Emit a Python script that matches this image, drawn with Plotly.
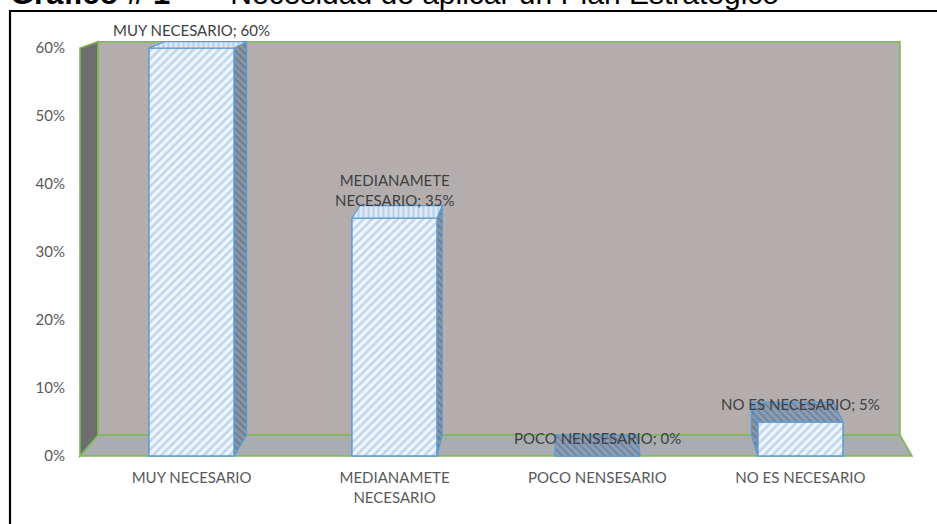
import plotly.graph_objects as go

# --- data -------------------------------------------------------------
categories = ["MUY NECESARIO", "MEDIANAMETE NECESARIO", "POCO NENSESARIO", "NO ES NECESARIO"]
tick_labels = ["MUY NECESARIO", "MEDIANAMETE<br>NECESARIO", "POCO NENSESARIO", "NO ES NECESARIO"]
values = [0.60, 0.35, 0.00, 0.05]
y_ticks = [0.0, 0.1, 0.2, 0.3, 0.4, 0.5, 0.6]

# --- 3D box geometry (in axis units) ----------------------------------
BAR_W = 0.42
X0, X1 = -0.55, 3.55          # front edges of the floor
Y_TOP = 0.6                   # top of the walls
VX, VY, S = 1.903, 0.859, 0.964   # vanishing point and depth scale


def back(x, y):
    """Project a front-plane point onto the back plane."""
    return VX + S * (x - VX), VY + S * (y - VY)


def path(points):
    return "M " + " L ".join(f"{x:.4f},{y:.4f}" for x, y in points) + " Z"


GREEN = "#7DB954"
BLUE_EDGE = "#5B9BD5"
LABEL_FONT = "Lato"

fig = go.Figure()

# front faces of the columns
fig.add_trace(go.Bar(
    x=list(range(len(categories))),
    y=values,
    width=BAR_W,
    marker=dict(
        color="#EEF5FC",
        pattern=dict(shape="/", fgcolor="#8DB6E0", bgcolor="#F0F6FC", size=6, solidity=0.45),
        line=dict(color=BLUE_EDGE, width=1.5),
    ),
    hoverinfo="skip",
    showlegend=False,
))

# top and side faces of the columns
top_tone = ["light", "light", "dark", "dark"]
tones = {
    "light": dict(shape="|", fgcolor="#8FB3DA", bgcolor="#DDE9F5"),
    "dark": dict(shape="\\", fgcolor="#4A6E9C", bgcolor="#8E9DB0"),
    "side": dict(shape="\\", fgcolor="#3F6696", bgcolor="#8C96A3"),
}


def face(points, tone):
    xs = [p[0] for p in points] + [points[0][0]]
    ys = [p[1] for p in points] + [points[0][1]]
    fig.add_trace(go.Scatter(
        x=xs, y=ys, mode="lines", fill="toself",
        fillcolor=tones[tone]["bgcolor"],
        fillpattern=dict(size=5, solidity=0.4, **tones[tone]),
        line=dict(color=BLUE_EDGE, width=1.2),
        hoverinfo="skip", showlegend=False,
    ))


for i, v in enumerate(values):
    xl, xr = i - BAR_W / 2, i + BAR_W / 2
    if v > 0:
        if xr < VX:
            face([(xr, 0), (xr, v), back(xr, v), back(xr, 0)], "side")
        elif xl > VX:
            face([(xl, 0), (xl, v), back(xl, v), back(xl, 0)], "side")
    face([(xl, v), (xr, v), back(xr, v), back(xl, v)], top_tone[i])

# walls and floor
shapes = [
    dict(type="path", layer="below", xref="x", yref="y",
         path=path([back(X0, 0), back(X1, 0), back(X1, Y_TOP), back(X0, Y_TOP)]),
         fillcolor="#B3AEAD", line=dict(color=GREEN, width=1.6)),
    dict(type="path", layer="below", xref="x", yref="y",
         path=path([(X0, 0), (X1, 0), back(X1, 0), back(X0, 0)]),
         fillcolor="#A9ADB2", line=dict(color=GREEN, width=1.6)),
    dict(type="path", layer="below", xref="x", yref="y",
         path=path([(X0, 0), (X0, Y_TOP), back(X0, Y_TOP), back(X0, 0)]),
         fillcolor="#6E6E6E", line=dict(color=GREEN, width=1.6)),
]

# pixel frame of the plot area
W, H = 937, 524
L, R, T, B = 76, 916, 40, 460
px_per_x = 203.0
px_per_y = 680.0
x_range = [X0 - (80 - L) / px_per_x, X1 + (R - 912) / px_per_x]
y_range = [-(B - 456) / px_per_y, (456 - T) / px_per_y]


def paper_x(px):
    return (px - L) / (R - L)


def paper_y(py):
    return (B - py) / (B - T)


# outer frame
shapes.append(dict(type="rect", xref="paper", yref="paper",
                   x0=paper_x(10), x1=paper_x(960), y0=paper_y(11), y1=paper_y(560),
                   line=dict(color="black", width=2.2), fillcolor="rgba(0,0,0,0)"))

annotations = []
for i, v in enumerate(values):
    annotations.append(dict(
        x=i, y=v, xref="x", yref="y", yanchor="bottom", yshift=7,
        text=f"{tick_labels[i]}; {round(v * 100)}%", showarrow=False,
        font=dict(family=LABEL_FONT, size=15, color="#404040"),
    ))

# title line
annotations.append(dict(
    x=paper_x(8), y=paper_y(-6), xref="paper", yref="paper",
    xanchor="left", yanchor="middle", showarrow=False,
    text="<b>Gráfico # 1</b>",
    font=dict(family="Liberation Sans", size=31, color="black"),
))
annotations.append(dict(
    x=paper_x(170), y=paper_y(-6), xref="paper", yref="paper",
    xanchor="left", yanchor="middle", showarrow=False,
    text="–     Necesidad de aplicar un Plan Estratégico",
    font=dict(family="Liberation Sans", size=30, color="black"),
))

fig.update_layout(
    width=W, height=H,
    margin=dict(l=L, r=W - R, t=T, b=H - B, pad=0),
    paper_bgcolor="white", plot_bgcolor="rgba(0,0,0,0)",
    shapes=shapes, annotations=annotations,
    showlegend=False,
    xaxis=dict(range=x_range, showgrid=False, zeroline=False, showline=False,
               tickmode="array", tickvals=list(range(len(categories))), ticktext=tick_labels,
               tickfont=dict(family=LABEL_FONT, size=15, color="#595959"),
               ticks="", ticklabelstandoff=7),
    yaxis=dict(range=y_range, showgrid=False, zeroline=False, showline=False,
               tickmode="array", tickvals=y_ticks, tickformat=".0%",
               tickfont=dict(family=LABEL_FONT, size=15, color="#595959"),
               ticks="", ticklabelstandoff=10),
)

fig.write_html("out.html")
